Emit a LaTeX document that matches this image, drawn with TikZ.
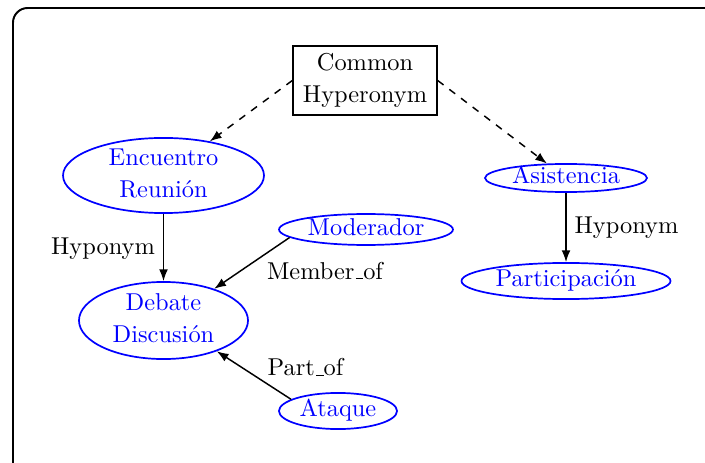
\documentclass[tikz,border=0pt]{standalone}
\usetikzlibrary{shapes.geometric,arrows.meta}
\newcommand{\nodetext}[1]{\begin{tabular}{@{}c@{}}#1\end{tabular}}
% short baseline underscore, as in the classic OT1 \_
\newcommand{\lowbar}{\leavevmode\kern.06em\vbox{\hrule width.3em}}
\begin{document}
\begin{tikzpicture}[x=0.41pt,y=-0.41pt,
  concept/.style={ellipse, draw=blue, text=blue, line width=0.7pt,
    inner sep=0pt, text height=5pt, text depth=0pt},
  hyperbox/.style={rectangle, draw=black, line width=0.6pt, inner sep=0pt,
    text height=5pt, text depth=0pt, minimum width=59pt, minimum height=28.3pt},
  rel/.style={-{Latex[length=4.8pt,width=3.6pt]}, line width=0.6pt},
  relname/.style={anchor=base, inner sep=0pt},
  frame/.style={line width=0.8pt, rounded corners=6pt},
]
\useasboundingbox (0,0) rectangle (705,463);
% outer frame (runs past the page edge on the right and bottom)
\draw[frame] (13,8) rectangle (725,478);

% concepts
\node[hyperbox] (hyper) at (365,80.5) {\nodetext{Common\\[1pt]Hyperonym}};
\node[concept, minimum width=82.4pt, minimum height=30.8pt] (enc) at (163.5,175.5)
  {\nodetext{Encuentro\\[1pt]Reunión}};
\node[concept, minimum width=69.3pt, minimum height=31.6pt] (deb) at (163.5,320.5)
  {\nodetext{Debate\\[1pt]Discusión}};
\node[concept, minimum width=66.4pt, minimum height=11.5pt] (asis) at (566,178)
  {\nodetext{Asistencia}};
\node[concept, minimum width=85.7pt, minimum height=14.8pt] (part) at (566,281)
  {\nodetext{Participación}};
\node[concept, minimum width=71.3pt, minimum height=12.7pt] (mod) at (366,229.5)
  {\nodetext{Moderador}};
\node[concept, minimum width=48.4pt, minimum height=14.8pt] (ataq) at (338,411)
  {\nodetext{Ataque}};

% relations
\draw[rel, dashed] (hyper.west) -- (enc);
\draw[rel, dashed] (hyper.east) -- (asis);
\draw[rel] (enc.south) -- (deb.north);
\draw[rel] (asis.south) -- (part.north);
\draw[rel] (mod.186.6) -- (deb.32.3);
\draw[rel] (ataq.166) -- (deb.-30.4);

% relation names
\node[relname] (hypl) at (103,254) {Hyponym};
\node[relname] (hypr) at (626.5,233.3) {Hyponym};
\node[relname] (memb) at (325,279) {Member\lowbar of};
\node[relname] (partof) at (305.5,375.7) {Part\lowbar of};
\end{tikzpicture}
\end{document}
